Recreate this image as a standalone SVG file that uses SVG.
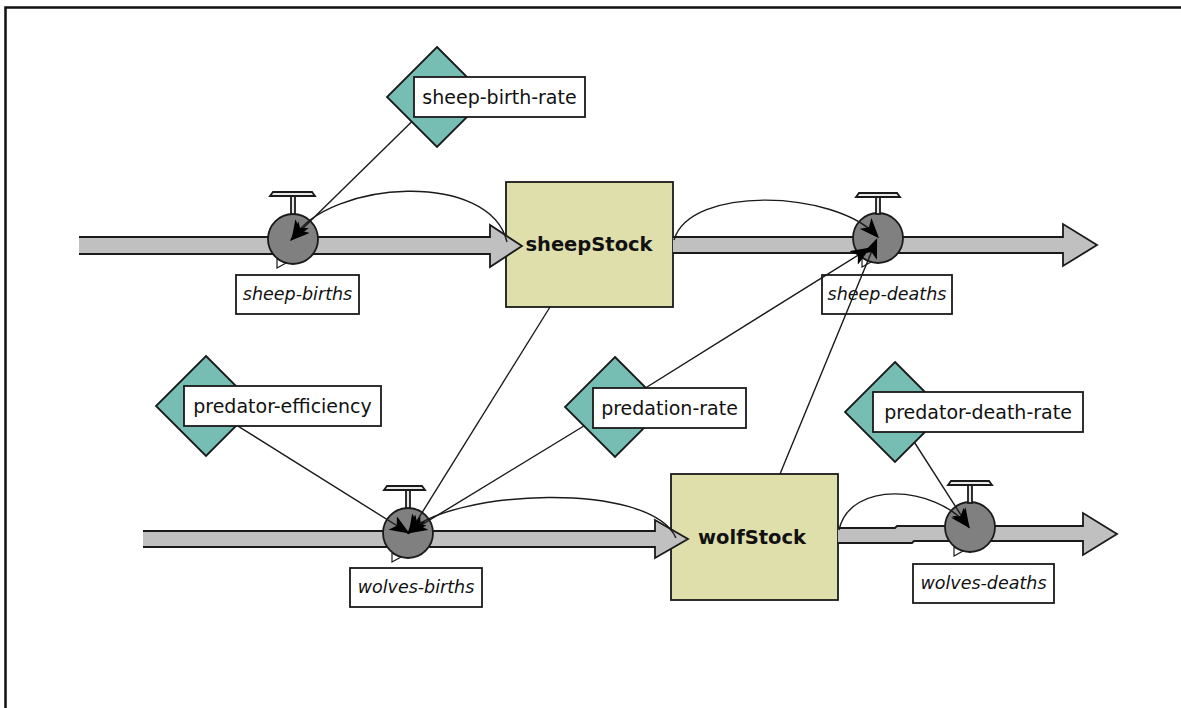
<svg xmlns="http://www.w3.org/2000/svg" width="1181" height="708" viewBox="0 0 1181 708">
<defs>
<style>
.pipe{fill:#c0c0c0;stroke:#1a1a1a;stroke-width:1.8;stroke-linejoin:miter}
.stock{fill:#dfdfab;stroke:#1a1a1a;stroke-width:1.8}
.valve{fill:#808080;stroke:#1a1a1a;stroke-width:1.8}
.bar{fill:#e8e8e8;stroke:#1a1a1a;stroke-width:1.8}
.tail{fill:#ffffff;stroke:#1a1a1a;stroke-width:1.2}
.box{fill:#ffffff;stroke:#1a1a1a;stroke-width:1.8}
.conv{fill:#76bdb4;stroke:#1a1a1a;stroke-width:1.8}
.lnk{fill:none;stroke:#1a1a1a;stroke-width:1.4;marker-end:url(#ah)}
.lbl{font-family:"DejaVu Sans",Verdana,sans-serif;font-size:19px;fill:#111}
.flbl{font-family:"DejaVu Sans",Verdana,sans-serif;font-size:17.5px;font-style:italic;fill:#111}
.slbl{font-family:"DejaVu Sans",Verdana,sans-serif;font-size:19.5px;font-weight:bold;fill:#111}
</style>
<marker id="ah" viewBox="0 0 20 16" refX="17" refY="8" markerWidth="20" markerHeight="16" markerUnits="userSpaceOnUse" orient="auto">
<path d="M0,0 L20,8 L0,16 L5,8 Z" fill="#000"/>
</marker>
</defs>
<rect x="0" y="0" width="1181" height="708" fill="#ffffff"/>
<rect x="5.5" y="7.5" width="1300" height="800" fill="none" stroke="#111" stroke-width="2.5"/>

<g id="sheepStock">
<rect class="stock" x="506" y="182" width="167" height="125"/>
<text class="slbl" x="589" y="251" text-anchor="middle">sheepStock</text>
</g>
<g id="wolfStock">
<rect class="stock" x="671" y="474" width="167" height="126"/>
<text class="slbl" x="752" y="544" text-anchor="middle">wolfStock</text>
</g>

<g id="pipes">
<path class="pipe" d="M79 237 L490 237 L490 225 L522 246 L490 267 L490 254 L79 254"/>
<path class="pipe" d="M673 237 L1063 237 L1063 224 L1097 245 L1063 266 L1063 253 L673 253"/>
<path class="pipe" d="M143 531 L655 531 L655 520 L688 539 L655 558 L655 547 L143 547"/>
<path class="pipe" d="M838 528 L895 528 L897 526 L1083 526 L1083 513 L1117 534 L1083 555 L1083 541 L914 541 L912 543 L838 543"/>
</g>

<g id="sheep-births">
<path class="tail" d="M277 259 L277 268 L286 263 Z"/>
<circle class="valve" cx="293" cy="239" r="25"/>
<rect class="bar" x="291" y="196" width="4" height="18"/>
<path class="bar" d="M270 196 L273 192 L312 192 L315 196 Z"/>
<rect class="box" x="236" y="275" width="123" height="39"/>
<text class="flbl" x="297.5" y="300" text-anchor="middle">sheep-births</text>
</g>
<g id="sheep-deaths">
<path class="tail" d="M862 258 L862 267 L871 262 Z"/>
<circle class="valve" cx="878" cy="238" r="25"/>
<rect class="bar" x="876" y="196" width="4" height="18"/>
<path class="bar" d="M856 197 L859 193 L897 193 L900 197 Z"/>
<rect class="box" x="822" y="275" width="130" height="39"/>
<text class="flbl" x="887" y="300" text-anchor="middle">sheep-deaths</text>
</g>
<g id="wolves-births">
<path class="tail" d="M392 553 L392 562 L401 557 Z"/>
<circle class="valve" cx="408" cy="533" r="25"/>
<rect class="bar" x="406" y="490" width="4" height="18"/>
<path class="bar" d="M384 490 L387 486 L422 486 L425 490 Z"/>
<rect class="box" x="350" y="568" width="132" height="39"/>
<text class="flbl" x="416" y="593" text-anchor="middle">wolves-births</text>
</g>
<g id="wolves-deaths">
<path class="tail" d="M954 547 L954 556 L963 551 Z"/>
<circle class="valve" cx="970" cy="527" r="25"/>
<rect class="bar" x="968" y="485" width="4" height="18"/>
<path class="bar" d="M948 485 L951 481 L989 481 L992 485 Z"/>
<rect class="box" x="913" y="564" width="141" height="39"/>
<text class="flbl" x="983.5" y="589" text-anchor="middle">wolves-deaths</text>
</g>

<g id="connectors">
<path class="lnk" d="M437 97 L292 239"/>
<path class="lnk" d="M507 242 C490 170, 330 180, 293 238"/>
<path class="lnk" d="M674 240 C690 185, 835 190, 877 236"/>
<path class="lnk" d="M615 407 L868 249"/>
<path class="lnk" d="M780 474 L876 241"/>
<path class="lnk" d="M550 307 L410 532"/>
<path class="lnk" d="M615 407 L410 532"/>
<path class="lnk" d="M206 406 L407 532"/>
<path class="lnk" d="M676 538 C650 480, 450 490, 409 532"/>
<path class="lnk" d="M895 412 L968 526"/>
<path class="lnk" d="M839 530 C850 480, 935 485, 968 526"/>
</g>

<g id="sheep-birth-rate">
<path class="conv" d="M437 47 L487 97 L437 147 L387 97 Z"/>
<rect class="box" x="414" y="77" width="171" height="40"/>
<text class="lbl" x="499.5" y="104" text-anchor="middle">sheep-birth-rate</text>
</g>
<g id="predator-efficiency">
<path class="conv" d="M206 356 L256 406 L206 456 L156 406 Z"/>
<rect class="box" x="184" y="386" width="197" height="40"/>
<text class="lbl" x="282.5" y="413" text-anchor="middle">predator-efficiency</text>
</g>
<g id="predation-rate">
<path class="conv" d="M615 357 L665 407 L615 457 L565 407 Z"/>
<rect class="box" x="593" y="388" width="153" height="40"/>
<text class="lbl" x="669.5" y="415" text-anchor="middle">predation-rate</text>
</g>
<g id="predator-death-rate">
<path class="conv" d="M895 362 L945 412 L895 462 L845 412 Z"/>
<rect class="box" x="873" y="392" width="210" height="40"/>
<text class="lbl" x="978" y="419" text-anchor="middle">predator-death-rate</text>
</g>
</svg>
